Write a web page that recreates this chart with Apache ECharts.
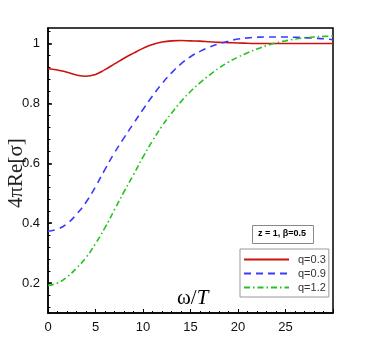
<!DOCTYPE html>
<html><head><meta charset="utf-8">
<script src="https://cdn.jsdelivr.net/npm/echarts@6/dist/echarts.min.js"></script>
<style>html,body{margin:0;padding:0;background:#fff}#c{width:382px;height:340px}</style>
</head><body><div id="c"></div>
<script>
var omega = [0,1,2,3,4,5,6,7,8,9,10,11,12,13,14,15,16,17,18,19,20,21,22,23,24,25,26,27,28,29,30];
var q03 = [0.916,0.912,0.904,0.895,0.891,0.897,0.913,0.932,0.951,0.968,0.984,0.997,1.005,1.009,1.010,1.009,1.008,1.006,1.004,1.003,1.002,1.001,1.000,1.000,1.000,1.000,1.000,1.000,1.000,1.000,1.000];
var q09 = [0.373,0.380,0.398,0.430,0.470,0.522,0.580,0.635,0.685,0.733,0.780,0.825,0.866,0.902,0.932,0.956,0.974,0.988,0.999,1.008,1.015,1.019,1.021,1.022,1.022,1.022,1.021,1.020,1.018,1.016,1.013];
var q12 = [0.192,0.200,0.220,0.250,0.285,0.332,0.385,0.445,0.505,0.562,0.621,0.675,0.724,0.767,0.806,0.840,0.869,0.895,0.918,0.938,0.955,0.969,0.982,0.993,1.002,1.009,1.015,1.019,1.022,1.024,1.025];
var seriesNames = ['q=0.3','q=0.9','q=1.2'];
var yMajor = [0.2,0.4,0.6,0.8,1];
var yMinor = [0.12,0.16,0.2,0.24,0.28,0.32,0.36,0.4,0.44,0.48,0.52,0.56,0.6,0.64,0.68,0.72,0.76,0.8,0.84,0.88,0.92,0.96,1,1.04];
var xTicks = [0,5,10,15,20,25];

function pairs(v){ return omega.map(function(o,i){ return [o, v[i]]; }); }

var chart = echarts.init(document.getElementById('c'), null, {renderer:'canvas'});
chart.setOption({
  animation:false,
  grid:{left:48,right:49,top:28,bottom:27,show:true,borderColor:'#000',borderWidth:1.5,backgroundColor:'transparent'},
  xAxis:{type:'value',min:0,max:30,interval:5,
    axisLine:{show:true,lineStyle:{color:'#000',width:1.5}},
    axisTick:{show:true,inside:true,length:4,lineStyle:{color:'#000'}},
    minorTick:{show:true,splitNumber:5,length:2,lineStyle:{color:'#000'}},
    splitLine:{show:false},
    axisLabel:{color:'#111',fontSize:13,fontFamily:'Liberation Sans, Arial, sans-serif',margin:8,
      formatter:function(v){ return xTicks.indexOf(v)>=0 ? String(v) : ''; }}
  },
  yAxis:[{type:'value',min:0.1,max:1.052,
    axisLine:{show:true,lineStyle:{color:'#000',width:1.5}},
    axisTick:{show:true,inside:true,length:4,customValues:yMajor,lineStyle:{color:'#000',width:1.5}},
    splitLine:{show:false},
    axisLabel:{color:'#111',fontSize:13,fontFamily:'Liberation Sans, Arial, sans-serif',margin:8,customValues:yMajor,
      formatter:function(v){ return String(Math.round(v*10)/10); }}
  },{type:'value',min:0.1,max:1.052,position:'left',
    axisLine:{show:false},
    axisTick:{show:true,inside:true,length:2.5,customValues:yMinor,lineStyle:{color:'#000'}},
    splitLine:{show:false},
    axisLabel:{show:false}
  }],
  legend:{
    orient:'vertical',left:240,top:249,
    data:seriesNames,
    itemWidth:45,itemHeight:10,itemGap:3,
    padding:[5,3,4,3],
    borderColor:'#999',borderWidth:1,
    itemStyle:{opacity:0},
    textStyle:{color:'#333',fontSize:11,fontFamily:'Liberation Sans, Arial, sans-serif',padding:[0,0,0,4]}
  },
  graphic:[
    {type:'rect',left:252,top:225,shape:{width:61,height:18},style:{fill:'#fff',stroke:'#888',lineWidth:1}},
    {type:'text',left:258,top:229,style:{text:'z = 1, β=0.5',fill:'#000',font:'bold 9px Liberation Sans, Arial, sans-serif'}},
    {type:'text',left:177,top:288,style:{rich:{a:{fontFamily:'Liberation Serif, Times New Roman, serif',fontSize:21,fill:'#000'},b:{fontFamily:'Liberation Serif, Times New Roman, serif',fontSize:21,fontStyle:'italic',fill:'#000'}},text:'{a|ω/}{b|T}'}},
    {type:'text',x:6,y:208,rotation:Math.PI/2,style:{text:'4πRe[σ]',fill:'#222',font:'21px Liberation Serif, Times New Roman, serif'}}
  ],
  series:[
    {name:seriesNames[0],type:'line',smooth:true,symbol:'none',data:pairs(q03),
      lineStyle:{color:'#cc1111',width:1.6,type:'solid'},itemStyle:{color:'#cc1111'}},
    {name:seriesNames[1],type:'line',smooth:true,symbol:'none',data:pairs(q09),
      lineStyle:{color:'#3a3aff',width:1.6,type:[7,5]},itemStyle:{color:'#3a3aff'}},
    {name:seriesNames[2],type:'line',smooth:true,symbol:'none',data:pairs(q12),
      lineStyle:{color:'#22c322',width:1.6,type:[6,3,1.5,3]},itemStyle:{color:'#22c322'}}
  ]
});
</script></body></html>
